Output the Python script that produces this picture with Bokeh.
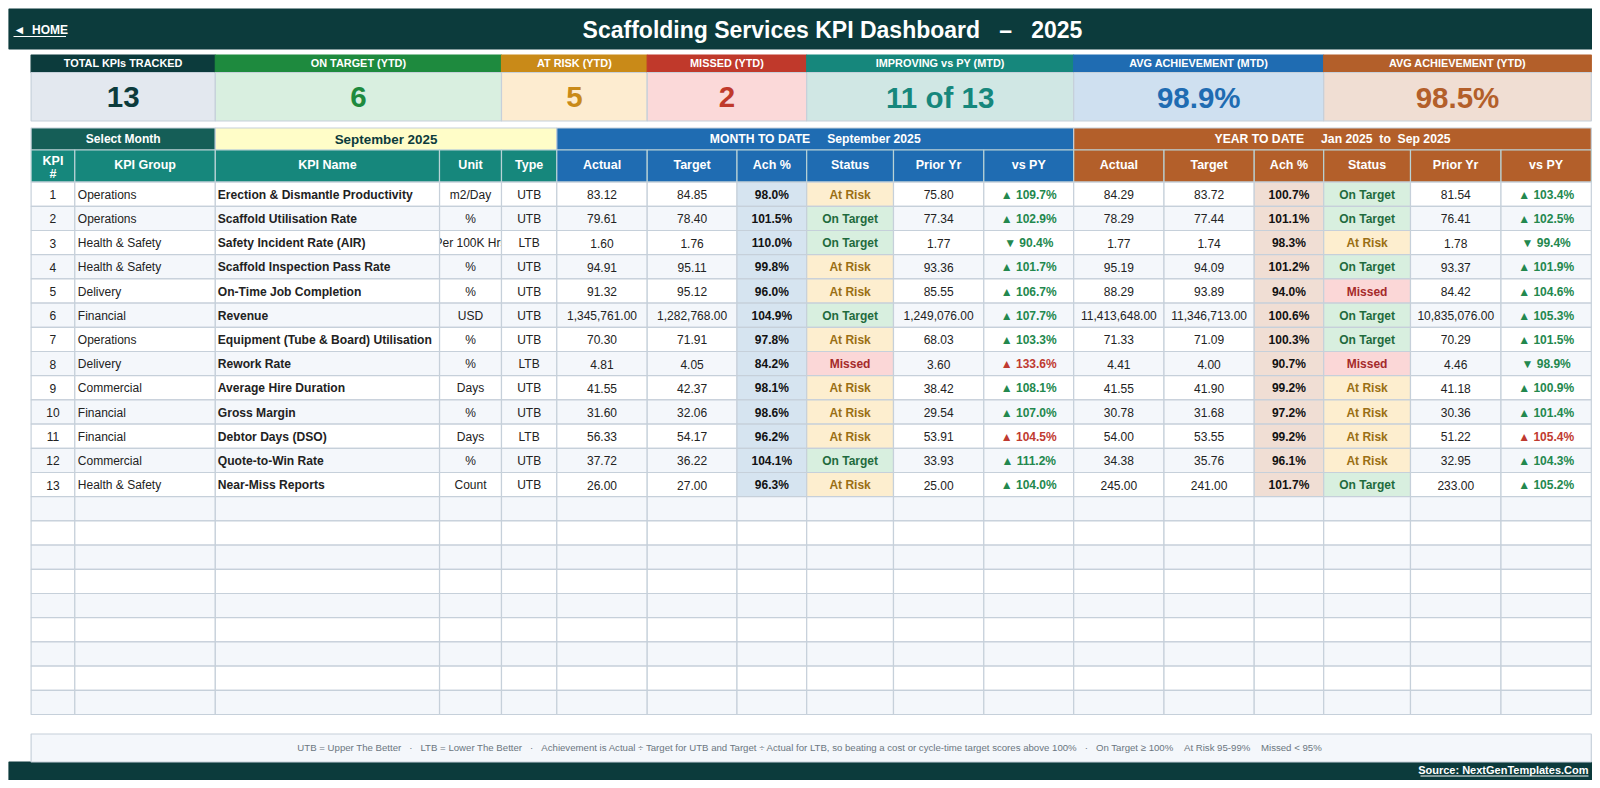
from bokeh.plotting import figure
from bokeh.models import Range1d, ColumnDataSource
from bokeh.core.properties import value
from bokeh.embed import file_html
from bokeh.resources import INLINE

# ---------- data ----------
NB = "\u00a0"
title_text = f"Scaffolding Services KPI Dashboard{NB*3}\u2013{NB*3}2025"
home_text = f"\u25c4{NB*2}HOME"
source_text = "Source: NextGenTemplates.Com"
note_text = (f"UTB = Upper The Better{NB*3}\u00b7{NB*3}LTB = Lower The Better{NB*3}\u00b7{NB*3}Achievement is Actual \u00f7 Target for UTB "
             f"and Target \u00f7 Actual for LTB, so beating a cost or cycle-time target scores above 100%{NB*3}\u00b7{NB*3}"
             f"On Target \u2265 100%{NB*4}At Risk 95-99%{NB*4}Missed < 95%")
card_labels = ["TOTAL KPIs TRACKED", "ON TARGET (YTD)", "AT RISK (YTD)", "MISSED (YTD)",
               "IMPROVING vs PY (MTD)", "AVG ACHIEVEMENT (MTD)", "AVG ACHIEVEMENT (YTD)"]
card_values = ["13", "6", "5", "2", "11 of 13", "98.9%", "98.5%"]
select_label = "Select Month"
selected_month = "September 2025"
mtd_banner = f"MONTH TO DATE{NB*5}September 2025"
ytd_banner = f"YEAR TO DATE{NB*5}Jan 2025{NB*2}to{NB*2}Sep 2025"
column_titles = ["KPI\n#", "KPI Group", "KPI Name", "Unit", "Type",
                 "Actual", "Target", "Ach %", "Status", "Prior Yr", "vs PY",
                 "Actual", "Target", "Ach %", "Status", "Prior Yr", "vs PY"]
kpi_ids = list(range(1, 14))
kpi_groups = ["Operations", "Operations", "Health & Safety", "Health & Safety", "Delivery", "Financial",
              "Operations", "Delivery", "Commercial", "Financial", "Financial", "Commercial", "Health & Safety"]
kpi_names = ["Erection & Dismantle Productivity", "Scaffold Utilisation Rate", "Safety Incident Rate (AIR)",
             "Scaffold Inspection Pass Rate", "On-Time Job Completion", "Revenue",
             "Equipment (Tube & Board) Utilisation", "Rework Rate", "Average Hire Duration", "Gross Margin",
             "Debtor Days (DSO)", "Quote-to-Win Rate", "Near-Miss Reports"]
kpi_units = ["m2/Day", "%", "Per 100K Hrs", "%", "%", "USD", "%", "%", "Days", "%", "Days", "%", "Count"]
kpi_types = ["UTB", "UTB", "LTB", "UTB", "UTB", "UTB", "UTB", "LTB", "UTB", "UTB", "LTB", "UTB", "UTB"]
mtd_actual = [83.12, 79.61, 1.60, 94.91, 91.32, 1345761.00, 70.30, 4.81, 41.55, 31.60, 56.33, 37.72, 26.00]
mtd_target = [84.85, 78.40, 1.76, 95.11, 95.12, 1282768.00, 71.91, 4.05, 42.37, 32.06, 54.17, 36.22, 27.00]
mtd_ach = [98.0, 101.5, 110.0, 99.8, 96.0, 104.9, 97.8, 84.2, 98.1, 98.6, 96.2, 104.1, 96.3]
mtd_status = ["At Risk", "On Target", "On Target", "At Risk", "At Risk", "On Target", "At Risk", "Missed",
              "At Risk", "At Risk", "At Risk", "On Target", "At Risk"]
mtd_prior = [75.80, 77.34, 1.77, 93.36, 85.55, 1249076.00, 68.03, 3.60, 38.42, 29.54, 53.91, 33.93, 25.00]
mtd_vs_py = [109.7, 102.9, 90.4, 101.7, 106.7, 107.7, 103.3, 133.6, 108.1, 107.0, 104.5, 111.2, 104.0]
ytd_actual = [84.29, 78.29, 1.77, 95.19, 88.29, 11413648.00, 71.33, 4.41, 41.55, 30.78, 54.00, 34.38, 245.00]
ytd_target = [83.72, 77.44, 1.74, 94.09, 93.89, 11346713.00, 71.09, 4.00, 41.90, 31.68, 53.55, 35.76, 241.00]
ytd_ach = [100.7, 101.1, 98.3, 101.2, 94.0, 100.6, 100.3, 90.7, 99.2, 97.2, 99.2, 96.1, 101.7]
ytd_status = ["On Target", "On Target", "At Risk", "On Target", "Missed", "On Target", "On Target", "Missed",
              "At Risk", "At Risk", "At Risk", "At Risk", "On Target"]
ytd_prior = [81.54, 76.41, 1.78, 93.37, 84.42, 10835076.00, 70.29, 4.46, 41.18, 30.36, 51.22, 32.95, 233.00]
ytd_vs_py = [103.4, 102.5, 99.4, 101.9, 104.6, 105.3, 101.5, 98.9, 100.9, 101.4, 105.4, 104.3, 105.2]
blank_rows = 9

# ---------- layout & style ----------
FONT = "Liberation Sans"
col_edges = [30.6, 74.3, 214.8, 439, 501, 556.3, 646.7, 736.5, 806.2, 893, 983.3, 1073.2,
             1163.5, 1253.7, 1323.2, 1410, 1500.5, 1590.8]
card_edges = [(30.6, 214.8), (214.8, 501), (501, 646.7), (646.7, 806.2), (806.2, 1073.2), (1073.2, 1323.2), (1323.2, 1590.8)]
card_heads = ["#0c3b3c", "#1e8a3e", "#c98a18", "#c0392b", "#16877c", "#1f6cb2", "#b35f2a"]
card_bodies = ["#e3e8ef", "#d9efe0", "#fdecd0", "#fbd9d9", "#d0e7e4", "#cfe0f0", "#f0ded3"]
GRID = "#c6d0da"
BAND = "#f4f7fb"
STATUS_FILL = {"At Risk": "#fdeecf", "On Target": "#d8efdf", "Missed": "#fbd7d7"}
STATUS_TEXT = {"At Risk": "#9a6f14", "On Target": "#1f6b3d", "Missed": "#a52a2a"}
TEAL, BLUE, RUST = "#16877c", "#1f6cb2", "#b35f2a"
Y_CARD_TOP, Y_CARD_MID, Y_CARD_BOT = 54.5, 72, 120.5
Y_SEL_TOP, Y_HEAD_TOP, Y_BODY_TOP = 127.5, 149.5, 181.6
ROW_H = 24.2

p = figure(width=1592, height=780, output_backend="svg", toolbar_location=None,
           x_range=Range1d(0, 1592), y_range=Range1d(780, 0), x_axis_type=None, y_axis_type=None,
           min_border=0, outline_line_color=None, background_fill_color="white", border_fill_color="white")


def boxes(items, line=GRID):
    """items: (left, right, top, bottom, fill)"""
    d = dict(l=[i[0] for i in items], r=[i[1] for i in items], t=[i[2] for i in items],
             b=[i[3] for i in items], c=[i[4] for i in items])
    p.quad(left="l", right="r", top="t", bottom="b", fill_color="c", source=ColumnDataSource(d),
           line_color=line if line else "c", line_width=1.2)


def texts(items, size, bold=False, align="center", color="#222222"):
    """items: (x, y, text[, colour])"""
    d = dict(x=[i[0] for i in items], y=[i[1] for i in items], s=[i[2] for i in items],
             c=[(i[3] if len(i) > 3 else color) for i in items])
    p.text(x="x", y="y", text="s", text_color="c", source=ColumnDataSource(d),
           text_font=value(FONT), text_font_size=f"{size}px", text_font_style="bold" if bold else "normal",
           text_align=align, text_baseline="middle")


def mid(a, b):
    return (a + b) / 2


# banners
boxes([(8.5, 1591.5, 8.5, 48.5, "#0c3b3c"), (8.5, 1591.5, 761.5, 779.5, "#0c3b3c")], line=None)
texts([(832, 29, title_text, "white")], 23, True)
texts([(13, 29, home_text, "white")], 12, True, "left")
p.segment(x0=[13], x1=[65.5], y0=[36], y1=[36], line_color="white", line_width=1)
texts([(1588, 769.5, source_text, "white")], 11, True, "right")
p.segment(x0=[1420], x1=[1588], y0=[775.5], y1=[775.5], line_color="white", line_width=1)

# KPI cards
for (l, r), h, b, lab, val in zip(card_edges, card_heads, card_bodies, card_labels, card_values):
    boxes([(l, r, Y_CARD_TOP, Y_CARD_MID, h)], line=None)
    boxes([(l, r, Y_CARD_MID, Y_CARD_BOT, b)], line=GRID)
    texts([(mid(l, r), mid(Y_CARD_TOP, Y_CARD_MID) - 0.7, lab, "white")], 10.9, True)
    texts([(mid(l, r), mid(Y_CARD_MID, Y_CARD_BOT) + 0.5, val, h)], 29.5, True)

# selector + section banners
E = col_edges
boxes([(E[0], E[2], Y_SEL_TOP, Y_HEAD_TOP, "#155e57"),
       (E[2], E[5], Y_SEL_TOP, Y_HEAD_TOP, "#fffdc8"),
       (E[5], E[11], Y_SEL_TOP, Y_HEAD_TOP, BLUE),
       (E[11], E[17], Y_SEL_TOP, Y_HEAD_TOP, RUST)], line=GRID)
ys = mid(Y_SEL_TOP, Y_HEAD_TOP)
texts([(mid(E[0], E[2]), ys, select_label, "white")], 12, True)
texts([(mid(E[2], E[5]), ys, selected_month, "#0c3b3c")], 13.4, True)
texts([(mid(E[5], E[11]), ys, mtd_banner, "white"), (mid(E[11], E[17]), ys, ytd_banner, "white")], 12.2, True)

# column headers
head_boxes, head_text = [], []
yh = mid(Y_HEAD_TOP, Y_BODY_TOP)
for c, t in enumerate(column_titles):
    fill = TEAL if c < 5 else BLUE if c < 11 else RUST
    head_boxes.append((E[c], E[c + 1], Y_HEAD_TOP, Y_BODY_TOP, fill))
    if "\n" in t:
        a, b = t.split("\n")
        head_text += [(mid(E[c], E[c + 1]), yh - 5.5, a, "white"), (mid(E[c], E[c + 1]), yh + 8, b, "white")]
    else:
        head_text.append((mid(E[c], E[c + 1]), yh - 1, t, "white"))
boxes(head_boxes, line="#b9d3d6")
texts(head_text, 12.5, True)

# body
n_rows = len(kpi_ids) + blank_rows


def row_y(i):
    return Y_BODY_TOP + i * ROW_H, Y_BODY_TOP + (i + 1) * ROW_H


def band(i):
    return BAND if i % 2 else "white"


def text_y(i):
    return mid(*row_y(i)) + 0.5


# the Unit column goes first so its neighbours clip the text that overflows it
boxes([(E[3], E[4], *row_y(i), band(i)) for i in range(n_rows)])
texts([(mid(E[3], E[4]), text_y(i), kpi_units[i]) for i in range(len(kpi_ids))], 12)

body = []
for i in range(n_rows):
    t, b = row_y(i)
    for c in range(17):
        if c == 3:
            continue
        fill = band(i)
        if i < len(kpi_ids):
            if c == 7:
                fill = "#d6e4f0"
            elif c == 13:
                fill = "#f0ded4"
            elif c == 8:
                fill = STATUS_FILL[mtd_status[i]]
            elif c == 14:
                fill = STATUS_FILL[ytd_status[i]]
        body.append((E[c], E[c + 1], t, b, fill))
boxes(body)


def cx(c):
    return mid(E[c], E[c + 1])


def num(v):
    return f"{v:,.2f}"


def vs(v, kind):
    arrow = "\u25b2" if v >= 100 else "\u25bc"
    bad = v > 100 if kind == "LTB" else v < 100
    return f"{arrow} {v:.1f}%", ("#bf3a30" if bad else "#23884e")


plain, left, names, achs, stats, pys = [], [], [], [], [], []
for i in range(len(kpi_ids)):
    y = text_y(i)
    plain.append((cx(0), y, str(kpi_ids[i])))
    left.append((E[1] + 3, y, kpi_groups[i]))
    names.append((E[2] + 2.5, y, kpi_names[i]))
    plain.append((cx(4), y, kpi_types[i]))
    for off, act, tar, ach, st, pri, py in ((5, mtd_actual, mtd_target, mtd_ach, mtd_status, mtd_prior, mtd_vs_py),
                                            (11, ytd_actual, ytd_target, ytd_ach, ytd_status, ytd_prior, ytd_vs_py)):
        plain.append((cx(off), y, num(act[i])))
        plain.append((cx(off + 1), y, num(tar[i])))
        achs.append((cx(off + 2), y, f"{ach[i]:.1f}%"))
        stats.append((cx(off + 3), y, st[i], STATUS_TEXT[st[i]]))
        plain.append((cx(off + 4), y, num(pri[i])))
        s, col = vs(py[i], kpi_types[i])
        pys.append((cx(off + 5), y, s, col))
texts(plain, 12)
texts(left, 12, False, "left")
texts(names, 12.1, True, "left")
texts(achs, 12, True, color="#111111")
texts(stats, 12, True)
texts(pys, 12, True)

# note
boxes([(30.6, 1590.8, 733.5, 761.5, BAND)])
texts([(810, 747, note_text, "#6b7680")], 9.65)

open("out.html", "w").write(file_html(p, INLINE))
